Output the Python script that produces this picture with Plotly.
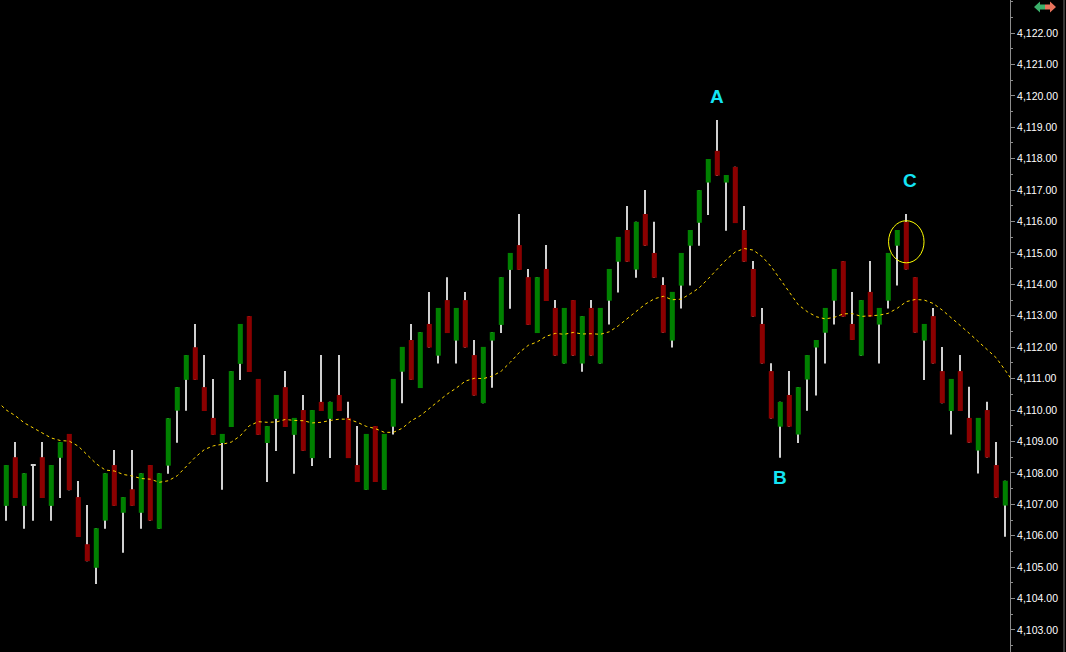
import plotly.graph_objects as go

# ---- data ----
opens = [4106.95, 4108.50, 4106.95, 4108.25, 4108.50, 4106.95, 4108.48, 4109.24, 4107.23, 4105.73,
         4104.98, 4106.48, 4108.25, 4106.73, 4107.48, 4106.73, 4108.25, 4106.22, 4108.23, 4109.98,
         4110.96, 4112.00, 4110.73, 4109.75, 4108.95, 4109.46, 4111.47, 4112.99, 4110.99, 4108.95,
         4109.72, 4110.73, 4109.21, 4110.00, 4108.47, 4110.26, 4109.72, 4110.48, 4109.75, 4108.25,
         4107.46, 4109.49, 4107.46, 4109.47, 4111.22, 4112.23, 4110.70, 4112.74, 4111.73, 4113.50,
         4112.21, 4113.50, 4111.75, 4110.22, 4112.21, 4112.71, 4114.46, 4115.25, 4114.23, 4112.45,
         4114.49, 4113.25, 4111.48, 4113.50, 4111.48, 4113.25, 4111.48, 4113.48, 4114.72, 4115.73,
         4114.47, 4116.24, 4115.00, 4113.98, 4112.21, 4113.96, 4115.23, 4115.96, 4117.24, 4118.25,
         4117.24, 4117.74, 4115.73, 4114.49, 4112.74, 4111.24, 4109.47, 4110.48, 4109.22, 4110.97,
         4111.99, 4112.46, 4113.48, 4114.74, 4112.74, 4111.73, 4113.76, 4112.72, 4113.48, 4115.23,
         4115.99, 4114.23, 4112.21, 4112.99, 4111.24, 4109.97, 4111.24, 4109.75, 4108.71, 4110.00,
         4108.25, 4106.96]
highs = [4108.25, 4108.98, 4107.99, 4108.25, 4108.98, 4108.25, 4108.98, 4109.24, 4107.74, 4106.98,
         4106.24, 4107.99, 4108.73, 4107.23, 4108.73, 4107.99, 4108.25, 4107.99, 4109.74, 4110.73,
         4111.75, 4112.74, 4111.75, 4110.99, 4109.24, 4111.24, 4112.74, 4112.99, 4110.99, 4109.49,
         4110.48, 4111.24, 4109.75, 4110.48, 4110.00, 4111.75, 4110.26, 4111.75, 4110.26, 4109.49,
         4109.24, 4109.49, 4109.24, 4110.99, 4112.01, 4112.74, 4112.48, 4113.76, 4113.25, 4114.23,
         4113.25, 4113.76, 4112.23, 4112.01, 4112.48, 4114.23, 4115.00, 4116.24, 4114.49, 4114.23,
         4115.25, 4113.50, 4113.25, 4113.50, 4112.99, 4113.50, 4113.25, 4114.49, 4115.51, 4116.49,
         4115.99, 4117.00, 4115.99, 4114.23, 4113.76, 4115.00, 4115.73, 4117.00, 4117.99, 4119.23,
         4117.48, 4117.74, 4116.49, 4114.74, 4113.25, 4111.49, 4110.26, 4111.24, 4110.73, 4111.75,
         4112.23, 4113.25, 4114.49, 4114.74, 4113.76, 4113.50, 4114.74, 4113.25, 4115.00, 4115.73,
         4116.24, 4114.23, 4112.74, 4113.25, 4112.01, 4110.99, 4111.75, 4110.74, 4109.75, 4110.26,
         4108.98, 4107.75]
lows = [4106.48, 4107.20, 4106.22, 4106.48, 4107.20, 4106.48, 4107.20, 4107.45, 4105.96, 4105.19,
        4104.46, 4106.22, 4106.95, 4105.46, 4106.95, 4106.22, 4106.48, 4106.22, 4107.97, 4108.96,
        4109.98, 4110.96, 4109.97, 4109.21, 4107.46, 4109.46, 4110.96, 4111.21, 4109.21, 4107.71,
        4108.70, 4109.46, 4107.97, 4108.70, 4108.22, 4109.97, 4108.47, 4109.97, 4108.47, 4107.71,
        4107.46, 4107.71, 4107.46, 4109.22, 4110.22, 4110.96, 4110.70, 4111.99, 4111.48, 4112.45,
        4111.48, 4111.99, 4110.46, 4110.22, 4110.71, 4112.45, 4113.22, 4114.46, 4112.71, 4112.45,
        4113.47, 4111.73, 4111.48, 4111.73, 4111.22, 4111.73, 4111.48, 4112.72, 4113.74, 4114.72,
        4114.21, 4115.23, 4114.21, 4112.46, 4111.99, 4113.23, 4113.96, 4115.23, 4116.21, 4117.46,
        4115.71, 4115.95, 4114.72, 4112.97, 4111.48, 4109.73, 4108.48, 4109.47, 4108.95, 4109.98,
        4110.46, 4111.48, 4112.72, 4112.97, 4112.23, 4111.73, 4112.97, 4111.48, 4113.23, 4113.96,
        4114.47, 4112.46, 4110.96, 4111.48, 4110.22, 4109.22, 4109.97, 4108.96, 4107.98, 4108.49,
        4107.21, 4105.97]
closes = [4108.25, 4107.20, 4107.99, 4108.25, 4107.20, 4108.25, 4108.98, 4107.45, 4105.96, 4105.19,
          4106.24, 4107.99, 4106.95, 4107.23, 4106.95, 4107.99, 4106.48, 4107.99, 4109.74, 4110.73,
          4111.75, 4110.96, 4109.97, 4109.21, 4109.24, 4111.24, 4112.74, 4111.21, 4109.21, 4109.49,
          4110.48, 4109.46, 4109.75, 4108.70, 4110.00, 4109.97, 4110.26, 4109.97, 4108.47, 4107.71,
          4109.24, 4107.71, 4109.24, 4110.99, 4112.01, 4110.96, 4112.48, 4111.99, 4113.25, 4112.45,
          4113.25, 4111.99, 4110.46, 4112.01, 4112.48, 4114.23, 4115.00, 4114.46, 4112.71, 4114.23,
          4113.47, 4111.73, 4113.25, 4111.73, 4112.99, 4111.73, 4113.25, 4114.49, 4115.51, 4114.72,
          4115.99, 4115.23, 4114.21, 4112.46, 4113.76, 4115.00, 4115.73, 4117.00, 4117.99, 4117.46,
          4117.48, 4115.95, 4114.72, 4112.97, 4111.48, 4109.73, 4110.26, 4109.47, 4110.73, 4111.75,
          4112.23, 4113.25, 4114.49, 4112.97, 4112.23, 4113.50, 4112.97, 4113.25, 4115.00, 4115.73,
          4114.47, 4112.46, 4112.74, 4111.48, 4110.22, 4110.99, 4109.97, 4108.96, 4109.75, 4108.49,
          4107.21, 4107.75]

# moving average, read at bar positions -1 .. 112
ma_start = -1
ma_values = [4110.27, 4110.00, 4109.82, 4109.59, 4109.43, 4109.27, 4109.11, 4109.03, 4109.01, 4108.85,
             4108.58, 4108.29, 4108.09, 4108.06, 4107.95, 4107.90, 4107.82, 4107.80, 4107.70, 4107.75,
             4107.91, 4108.20, 4108.50, 4108.74, 4108.86, 4108.91, 4108.98, 4109.18, 4109.50, 4109.63,
             4109.61, 4109.62, 4109.70, 4109.67, 4109.66, 4109.59, 4109.61, 4109.67, 4109.71, 4109.71,
             4109.61, 4109.48, 4109.41, 4109.29, 4109.29, 4109.42, 4109.66, 4109.82, 4110.05, 4110.26,
             4110.51, 4110.70, 4110.92, 4111.01, 4111.00, 4111.08, 4111.24, 4111.52, 4111.83, 4112.06,
             4112.17, 4112.35, 4112.44, 4112.41, 4112.47, 4112.42, 4112.43, 4112.41, 4112.49, 4112.68,
             4112.92, 4113.14, 4113.37, 4113.54, 4113.62, 4113.51, 4113.53, 4113.70, 4113.89, 4114.18,
             4114.50, 4114.79, 4115.03, 4115.14, 4115.09, 4114.88, 4114.56, 4114.15, 4113.74, 4113.35,
             4113.13, 4112.97, 4112.90, 4112.95, 4113.06, 4113.07, 4112.98, 4113.01, 4113.02, 4113.08,
             4113.24, 4113.45, 4113.52, 4113.50, 4113.39, 4113.18, 4112.92, 4112.69, 4112.44, 4112.19,
             4111.94, 4111.66, 4111.26, 4110.85]

point_labels = ["A", "B", "C"]
point_bars = [79, 86, 100.4]
point_label_prices = [4119.99, 4107.84, 4117.29]
circled_bar = 100

tick_values = [4103, 4104, 4105, 4106, 4107, 4108, 4109, 4110, 4111, 4112, 4113,
               4114, 4115, 4116, 4117, 4118, 4119, 4120, 4121, 4122]

# ---- styles ----
UP = "#008000"
DOWN = "#8B0000"
WICK = "#D0D0D0"
MA_COLOR = "#FFD700"
LABEL_COLOR = "#14E4F4"

n = len(opens)
xs = list(range(n))
body_base, body_h, body_col = [], [], []
for o, c in zip(opens, closes):
    lo, hi = min(o, c), max(o, c)
    h = hi - lo
    if h < 0.04:
        body_base.append(lo - 0.02)
        body_h.append(0.04)
        body_col.append(WICK)
    else:
        body_base.append(lo)
        body_h.append(h)
        body_col.append(UP if c > o else DOWN)

fig = go.Figure()
fig.add_trace(go.Bar(x=xs, y=[h - l for h, l in zip(highs, lows)], base=lows, width=0.11,
                     marker=dict(color=WICK, line=dict(width=0)), hoverinfo="skip", showlegend=False))
fig.add_trace(go.Bar(x=xs, y=body_h, base=body_base, width=0.56,
                     marker=dict(color=body_col, line=dict(width=0)), hoverinfo="skip", showlegend=False))
ma_x = list(range(ma_start, ma_start + len(ma_values)))
fig.add_trace(go.Scatter(x=ma_x, y=ma_values, mode="lines",
                         line=dict(color=MA_COLOR, width=1, dash="3px,3px"),
                         hoverinfo="skip", showlegend=False))

for lab, b, p in zip(point_labels, point_bars, point_label_prices):
    fig.add_annotation(x=b, y=p, text="<b>" + lab + "</b>", showarrow=False,
                       font=dict(family="Liberation Sans, Arial", size=19, color=LABEL_COLOR),
                       xanchor="center", yanchor="middle")

# circle around the candle near C
cb = circled_bar
mid = (highs[cb] + closes[cb]) / 2
fig.add_shape(type="circle", xref="x", yref="y",
              x0=cb - 1.97, x1=cb + 1.97, y0=mid - 0.67, y1=mid + 0.67,
              line=dict(color="#FFFF00", width=1))

W, H = 1066, 652
PW = 1010.0
def px(xp):
    return xp / PW
def py(yp):
    return 1 - yp / H

# right border line
fig.add_shape(type="line", xref="paper", yref="paper", x0=px(1064), x1=px(1064), y0=0, y1=1,
              line=dict(color="#6E6E6E", width=1))
# top-right arrows icon
fig.add_shape(type="path", xref="paper", yref="paper",
              path=f"M {px(1034)},{py(7)} L {px(1040)},{py(1.5)} L {px(1040)},{py(4.5)} L {px(1045)},{py(4.5)} "
                   f"L {px(1045)},{py(9.5)} L {px(1040)},{py(9.5)} L {px(1040)},{py(12.5)} Z",
              fillcolor="#3BAF6A", line=dict(width=0))
fig.add_shape(type="path", xref="paper", yref="paper",
              path=f"M {px(1056)},{py(7)} L {px(1050)},{py(1.5)} L {px(1050)},{py(4.5)} L {px(1045)},{py(4.5)} "
                   f"L {px(1045)},{py(9.5)} L {px(1050)},{py(9.5)} L {px(1050)},{py(12.5)} Z",
              fillcolor="#E8735C", line=dict(width=0))

y_top = 4122 + 33 / 31.42
y_bot = 4122 - (652 - 33) / 31.42

fig.update_layout(
    width=W, height=H,
    margin=dict(l=0, r=W - 1010, t=0, b=0),
    paper_bgcolor="#000000", plot_bgcolor="#000000",
    barmode="overlay", showlegend=False,
    xaxis=dict(range=[-6.3 / 9, (1010 - 6.3) / 9], visible=False, showgrid=False, zeroline=False),
    yaxis=dict(range=[y_bot, y_top], side="right", showgrid=False, zeroline=False,
               showline=True, linecolor="#8C8C8C", linewidth=1,
               tickmode="array", tickvals=tick_values, tickformat=",.2f",
               ticks="outside", ticklen=4, tickcolor="#8C8C8C", tickwidth=1,
               tickfont=dict(family="Liberation Sans, Arial", size=10.5, color="#FFFFFF"),
               minor=dict(dtick=0.5, ticks="outside", ticklen=2, tickcolor="#8C8C8C")),
    font=dict(family="Liberation Sans, Arial"),
)

fig.write_html("out.html", config={"displayModeBar": False},
               post_script="document.body.style.margin='0';document.body.style.background='#000';")
